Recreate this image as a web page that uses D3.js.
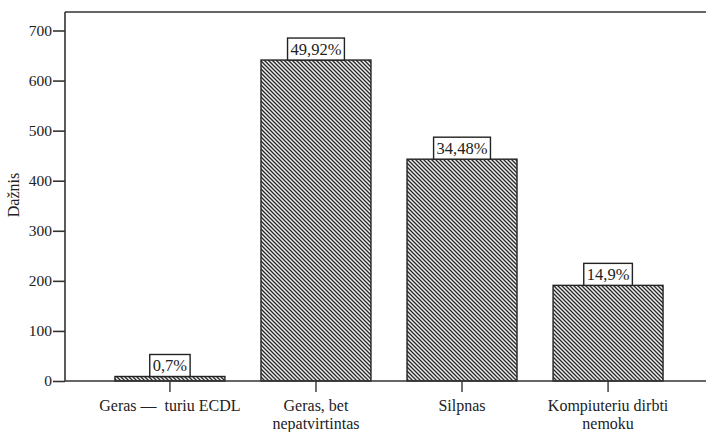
<!DOCTYPE html>
<html>
<head>
<meta charset="utf-8">
<script src="https://cdn.jsdelivr.net/npm/d3@7"></script>
<style>
  body { margin: 0; background: #fff; }
</style>
</head>
<body>
<svg id="chart" width="707" height="432"></svg>
<script>
// Frequencies of computer-literacy self-assessment answers
const categories = [
  ["Geras \u2014  turiu ECDL"],
  ["Geras, bet", "nepatvirtintas"],
  ["Silpnas"],
  ["Kompiuteriu dirbti", "nemoku"]
];
const counts = [9, 641, 443, 191];
const percentLabels = ["0,7%", "49,92%", "34,48%", "14,9%"];
const yTicks = [0, 100, 200, 300, 400, 500, 600, 700];
const yTitle = "Dažnis";

const SERIF = "Liberation Serif";
const INK = "#222";

const svg = d3.select("#chart");
const plotLeft = 65, plotRight = 706, plotTop = 12, plotBottom = 381;

const x = d3.scaleBand()
  .domain(d3.range(counts.length))
  .range([plotLeft, 713])
  .paddingInner(0.247)
  .paddingOuter(0.342);

const y = d3.scaleLinear().domain([0, 700]).range([plotBottom, 30.5]);

// Diagonal hatch fill for the bars (lines running top-left to bottom-right),
// built on an integer 4px tile so the stripes stay crisp
const tile = 4;
const defs = svg.append("defs");
const pat = defs.append("pattern")
  .attr("id", "hatch")
  .attr("patternUnits", "userSpaceOnUse")
  .attr("width", tile).attr("height", tile);
pat.append("rect").attr("width", tile).attr("height", tile).attr("fill", "#ededed");
pat.append("path")
  .attr("d", `M-1,-1L${tile + 1},${tile + 1}M${tile - 1},-1L${tile + 1},1M-1,${tile - 1}L1,${tile + 1}`)
  .attr("stroke", "#2a2a2a").attr("stroke-width", 1.3);

// Top frame line
svg.append("line")
  .attr("x1", plotLeft).attr("x2", plotRight).attr("y1", plotTop).attr("y2", plotTop)
  .attr("stroke", "#333").attr("stroke-width", 1.6);

// Y axis
const yAxis = svg.append("g")
  .attr("transform", `translate(${plotLeft},0)`)
  .call(d3.axisLeft(y).tickValues(yTicks).tickSize(12).tickPadding(1).tickFormat(d3.format("d")));
yAxis.select(".domain").remove();
yAxis.selectAll(".tick line").attr("stroke", "#333").attr("stroke-width", 1.6);
yAxis.selectAll(".tick text")
  .attr("fill", INK)
  .attr("font-family", SERIF)
  .attr("font-size", 15.5);
svg.append("line")
  .attr("x1", plotLeft).attr("x2", plotLeft).attr("y1", plotTop).attr("y2", plotBottom)
  .attr("stroke", "#333").attr("stroke-width", 1.6);

// Bars
svg.append("g").selectAll("rect")
  .data(counts)
  .join("rect")
  .attr("x", (d, i) => x(i))
  .attr("y", d => y(d))
  .attr("width", x.bandwidth())
  .attr("height", d => plotBottom - y(d))
  .attr("fill", "url(#hatch)")
  .attr("stroke", "#222")
  .attr("stroke-width", 1.4);

// X axis baseline and ticks
svg.append("line")
  .attr("x1", plotLeft).attr("x2", plotRight).attr("y1", plotBottom).attr("y2", plotBottom)
  .attr("stroke", "#333").attr("stroke-width", 1.6);
svg.append("g").selectAll("line")
  .data(counts)
  .join("line")
  .attr("x1", (d, i) => x(i) + x.bandwidth() / 2)
  .attr("x2", (d, i) => x(i) + x.bandwidth() / 2)
  .attr("y1", plotBottom).attr("y2", plotBottom + 11)
  .attr("stroke", "#333").attr("stroke-width", 1.4);

// Category labels
const catG = svg.append("g");
categories.forEach((lines, i) => {
  const t = catG.append("text")
    .attr("x", x(i) + x.bandwidth() / 2)
    .attr("y", 411)
    .attr("text-anchor", "middle")
    .attr("font-family", SERIF)
    .attr("font-size", 16)
    .attr("fill", INK);
  lines.forEach((ln, j) => {
    t.append("tspan")
      .attr("x", x(i) + x.bandwidth() / 2)
      .attr("dy", j === 0 ? 0 : 17.5)
      .attr("xml:space", "preserve")
      .text(ln);
  });
});

// Boxed percentage labels on top of bars
const lab = svg.append("g");
counts.forEach((d, i) => {
  const cx = x(i) + x.bandwidth() / 2;
  const g = lab.append("g");
  const txt = g.append("text")
    .attr("x", cx).attr("y", y(d) - 5)
    .attr("text-anchor", "middle")
    .attr("font-family", SERIF)
    .attr("font-size", 16.5)
    .attr("fill", INK)
    .text(percentLabels[i]);
  const w = txt.node().getComputedTextLength() + 6;
  g.insert("rect", "text")
    .attr("x", cx - w / 2).attr("y", y(d) - 22)
    .attr("width", w).attr("height", 22)
    .attr("fill", "#fff").attr("stroke", "#222").attr("stroke-width", 1.4);
});

// Y axis title
svg.append("text")
  .attr("transform", "translate(19,195) rotate(-90)")
  .attr("text-anchor", "middle")
  .attr("font-family", SERIF)
  .attr("font-size", 16)
  .attr("fill", INK)
  .text(yTitle);
</script>
</body>
</html>
